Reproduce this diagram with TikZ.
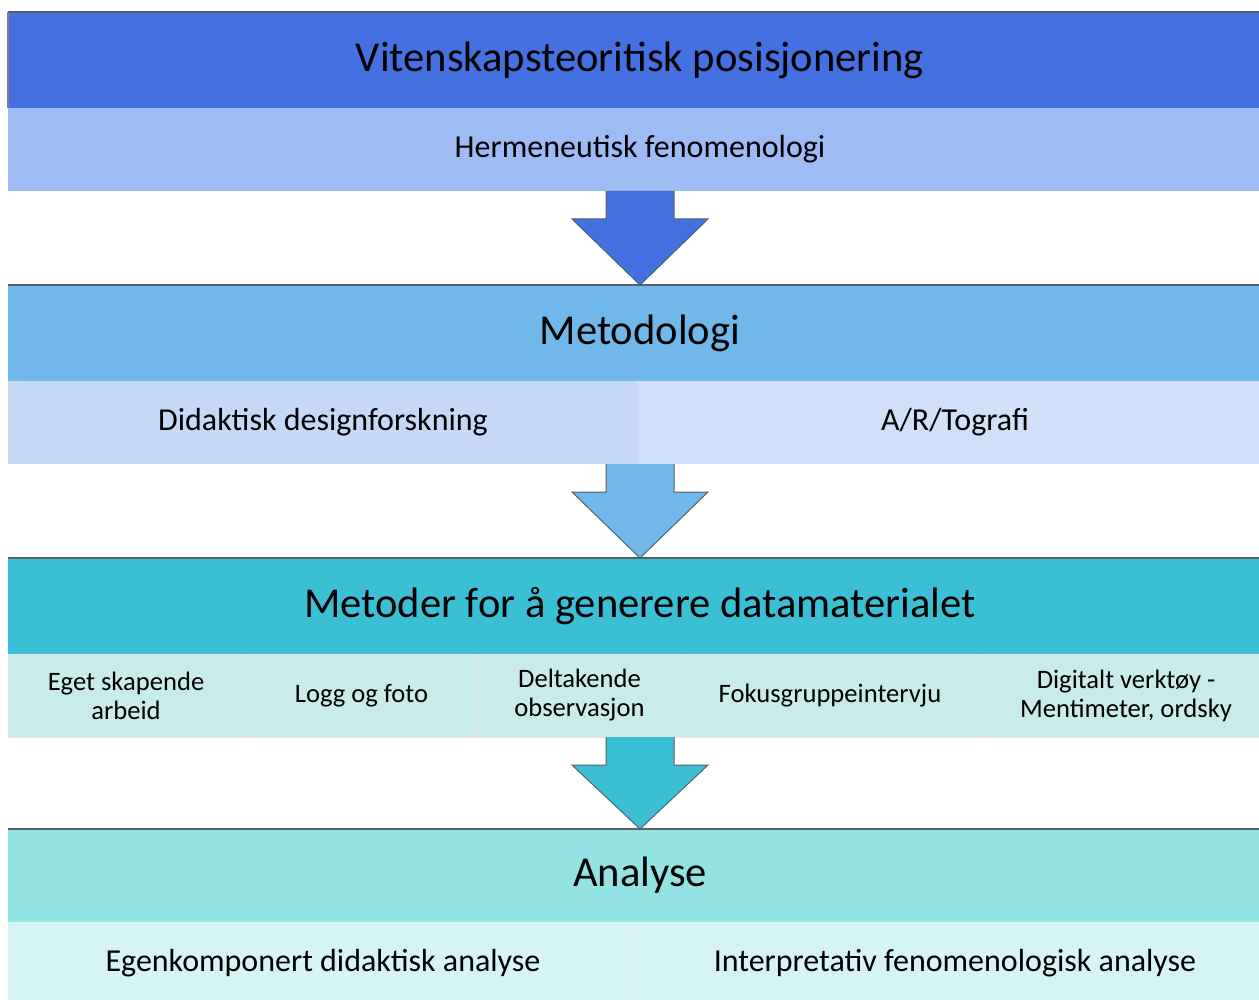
\documentclass[tikz,border=0pt]{standalone}
\usepackage{fontspec}
\setmainfont{Carlito}
\usetikzlibrary{positioning, calc}

\definecolor{blaaMork}{HTML}{4470E2}
\definecolor{blaaLys}{HTML}{9EBBF3}
\definecolor{himmel}{HTML}{71B8EA}
\definecolor{himmelLys}{HTML}{C5D9F7}
\definecolor{himmelLysere}{HTML}{D0E0F9}
\definecolor{turkis}{HTML}{3BBFD4}
\definecolor{turkisLys}{HTML}{C9ECEA}
\definecolor{mint}{HTML}{93E3E4}
\definecolor{mintLys}{HTML}{D6F4F6}
\definecolor{kant}{HTML}{55606A}

\begin{document}
\begin{tikzpicture}[x=0.5pt, y=-0.5pt,
    hode/.style={rectangle, inner sep=0pt, outer sep=0pt, minimum width=632pt, minimum height=48pt, font=\fontsize{21.3}{25}\selectfont},
    under/.style={rectangle, inner sep=0pt, outer sep=0pt, minimum height=41.5pt, align=center, font=\fontsize{16}{19}\selectfont},
    celle/.style={under, draw=white!80!gray, line width=0.4pt, font=\fontsize{13.3}{14.5}\selectfont},
    pil/.style={draw=kant, line width=0.5pt, line join=miter},
    toppkant/.style={draw=kant, line width=0.6pt}]
  \clip (0,0) rectangle (1259,1000);
  \useasboundingbox (0,0) rectangle (1259,1000);

  % niva 1
  \node [hode, fill=blaaMork] (vit) at (640,60) {Vitenskapsteoritisk posisjonering};
  \node [under, fill=blaaLys, minimum width=632pt, below=0pt of vit] (herm) {Hermeneutisk fenomenologi};

  % niva 2
  \node [hode, fill=himmel, below=47pt of herm] (meto) {Metodologi};
  \node [under, fill=himmelLys, minimum width=315pt, below right=0pt and 0pt of meto.south west] (didak) {Didaktisk designforskning};
  \node [under, fill=himmelLysere, minimum width=317pt, right=0pt of didak] (artog) {A/R/Tografi};

  % niva 3
  \node [hode, fill=turkis, below=47pt of herm.south |- didak.south, anchor=north] (metoder) {Metoder for å generere datamaterialet};
  \node [celle, fill=turkisLys, minimum width=118pt, below right=0pt and 0pt of metoder.south west] (eget) {Eget skapende\\arbeid};
  \node [celle, fill=turkisLys, minimum width=117.5pt, right=0pt of eget] (logg) {Logg og foto};
  \node [celle, fill=turkisLys, minimum width=100.5pt, right=0pt of logg] (delt) {Deltakende\\observasjon};
  \node [celle, fill=turkisLys, minimum width=150pt, right=0pt of delt] (fokus) {Fokusgruppeintervju};
  \node [celle, fill=turkisLys, minimum width=146pt, right=0pt of fokus] (digi) {Digitalt verktøy -\\Mentimeter, ordsky};

  % niva 4
  \node [hode, fill=mint, minimum height=46.5pt, anchor=north] (analyse) at ($(metoder.south)+(0,83+92)$) {Analyse};
  \node [under, fill=mintLys, minimum width=315pt, below right=0pt and 0pt of analyse.south west] (egen) {Egenkomponert didaktisk analyse};
  \node [under, fill=mintLys, minimum width=317pt, right=0pt of egen] (interp) {Interpretativ fenomenologisk analyse};
  \draw [white!85!gray, line width=0.4pt] (egen.north east) -- (egen.south east);

  \draw [toppkant] (vit.north west) -- (vit.north east);
  \draw [toppkant] (meto.north west) -- (meto.north east);
  \draw [toppkant] (metoder.north west) -- (metoder.north east);
  \draw [toppkant] (analyse.north west) -- (analyse.north east);
  \draw [gray, line width=0.6pt] (vit.north west) -- (vit.south west);

  % piler
  \draw [pil, fill=blaaMork] ($(herm.south)+(-34,0)$) -- ++(0,28) -- ++(-34,0) -- (meto.north)
    -- ($(herm.south)+(68,28)$) -- ++(-34,0) -- ($(herm.south)+(34,0)$);
  \draw [pil, fill=himmel] ($(meto.south)+(-34,83)$) -- ++(0,28) -- ++(-34,0) -- (metoder.north)
    -- ($(meto.south)+(68,111)$) -- ++(-34,0) -- ($(meto.south)+(34,83)$);
  \draw [pil, fill=turkis] ($(metoder.south)+(-34,83)$) -- ++(0,28) -- ++(-34,0) -- (analyse.north)
    -- ($(metoder.south)+(68,111)$) -- ++(-34,0) -- ($(metoder.south)+(34,83)$);
\end{tikzpicture}
\end{document}
